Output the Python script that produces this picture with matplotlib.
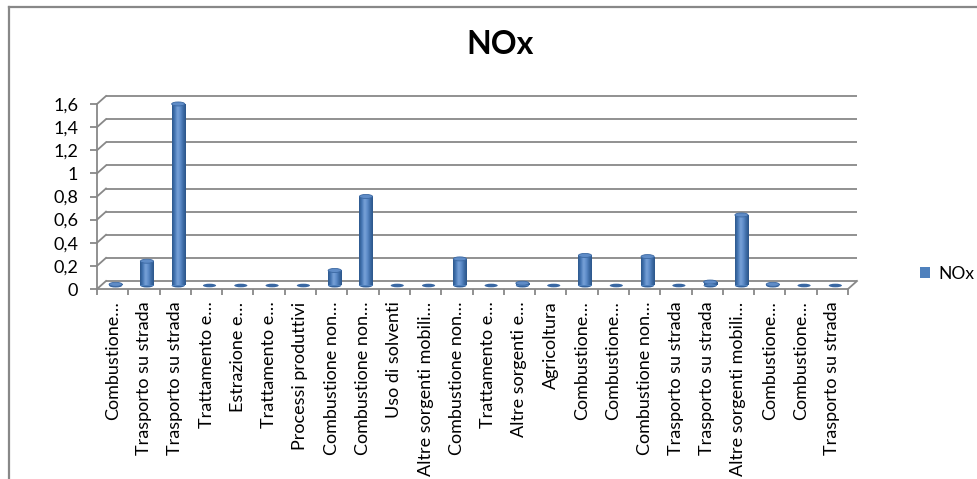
import numpy as np
import matplotlib
matplotlib.use("Agg")
import matplotlib.pyplot as plt
from matplotlib.colors import LinearSegmentedColormap
from matplotlib.patches import Ellipse, Patch
from matplotlib.lines import Line2D

plt.rcParams['font.family'] = ['Lato', 'DejaVu Sans']

# --- data -------------------------------------------------------------
categories = [
    "Combustione…", "Trasporto su strada", "Trasporto su strada",
    "Trattamento e…", "Estrazione e…", "Trattamento e…",
    "Processi produttivi", "Combustione non…", "Combustione non…",
    "Uso di solventi", "Altre sorgenti mobili…", "Combustione non…",
    "Trattamento e…", "Altre sorgenti e…", "Agricoltura",
    "Combustione…", "Combustione…", "Combustione non…",
    "Trasporto su strada", "Trasporto su strada", "Altre sorgenti mobili…",
    "Combustione…", "Combustione…", "Trasporto su strada",
]
nox = [0.01, 0.21, 1.57, 0.0, 0.0, 0.0, 0.0, 0.13, 0.77, 0.0, 0.0, 0.23,
       0.0, 0.02, 0.0, 0.26, 0.0, 0.25, 0.0, 0.03, 0.61, 0.01, 0.0, 0.0]
y_ticks = [0, 0.2, 0.4, 0.6, 0.8, 1.0, 1.2, 1.4, 1.6]
y_tick_labels = ["0", "0,2", "0,4", "0,6", "0,8", "1", "1,2", "1,4", "1,6"]
series_name = "NOx"

# --- figure and front plane of the 3-D box ------------------------------
W, H = 978, 479
fig = plt.figure(figsize=(W / 100, H / 100), dpi=100)
x0_px, x1_px, y0_px, y1_px = 97, 848, 289, 104
ax = fig.add_axes([x0_px / W, 1 - y0_px / H, (x1_px - x0_px) / W, (y0_px - y1_px) / H])
n = len(categories)
ax.set_xlim(0, n)
ax.set_ylim(0, 1.6)
ax.patch.set_alpha(0)

px_x = (x1_px - x0_px) / n          # pixels per category
px_y = (y0_px - y1_px) / 1.6         # pixels per unit
back_dx, back_dy = 9 / px_x, 8 / px_y    # depth offset of the back wall
mid_dx, mid_dy = 3 / px_x, 3.5 / px_y    # depth offset of the bar row

grid_c = "#888888"
lw_grid = 1.3

# back-wall gridlines and the side-wall diagonals
for v in y_ticks:
    ax.plot([back_dx, n + back_dx], [v + back_dy] * 2, color=grid_c, lw=lw_grid,
            clip_on=False, zorder=1, solid_capstyle="butt")
    ax.plot([0, back_dx], [v, v + back_dy], color=grid_c, lw=lw_grid,
            clip_on=False, zorder=1)
# right edge of the floor
ax.plot([n, n + back_dx], [0, back_dy], color=grid_c, lw=lw_grid, clip_on=False, zorder=1)

for side in ("top", "right"):
    ax.spines[side].set_visible(False)
for side in ("left", "bottom"):
    ax.spines[side].set_color(grid_c)
    ax.spines[side].set_linewidth(lw_grid)

ax.set_yticks(y_ticks)
ax.set_yticklabels(y_tick_labels)
ax.tick_params(axis="y", length=5, width=lw_grid, color=grid_c, pad=8.5,
               labelsize=13, labelcolor="black")

centers = np.arange(n) + 0.5
ax.set_xticks(centers)
ax.set_xticklabels(categories, rotation=90, va="top", ha="center")
ax.tick_params(axis="x", which="major", length=0, pad=9, labelsize=13)
ax.set_xticks(np.arange(n + 1), minor=True)
ax.tick_params(axis="x", which="minor", length=4.5, width=lw_grid, color=grid_c)

# --- cylinders ------------------------------------------------------------
bar_w = 0.42
cyl = LinearSegmentedColormap.from_list(
    "cyl", ["#2b568a", "#4677b5", "#79a2d8", "#5e8dca", "#3e6ca6", "#2b5589"])
grad = np.linspace(0, 1, 64)[None, :]
ell_h = 4 / px_y

bars = ax.bar(centers + mid_dx, nox, width=bar_w, bottom=mid_dy,
              color="#4f81bd", zorder=3, linewidth=0)
for bar, v in zip(bars, nox):
    xc = bar.get_x() + bar.get_width() / 2
    if v > 0:
        ax.add_patch(Ellipse((xc, mid_dy), bar_w, ell_h, facecolor="#34629c",
                             edgecolor="none", zorder=2.9, clip_on=False))
        im = ax.imshow(grad, cmap=cyl, aspect="auto", interpolation="bicubic",
                       extent=(bar.get_x(), bar.get_x() + bar.get_width(),
                               mid_dy, mid_dy + v), zorder=3.1)
        im.set_clip_path(bar)
        ax.add_patch(Ellipse((xc, mid_dy + v), bar_w, ell_h, facecolor="#5f8cc7",
                             edgecolor="#3b68a2", lw=0.6, zorder=3.2, clip_on=False))
    else:
        ax.add_patch(Ellipse((xc, mid_dy), bar_w, ell_h * 0.9, facecolor="#3a68a3",
                             edgecolor="none", zorder=3.2, clip_on=False))

ax.set_xlim(0, n)
ax.set_ylim(0, 1.6)

# --- title, legend, chart border ------------------------------------------
fig.text(500 / W, 1 - 44 / H, "NOx", ha="center", va="center",
         fontsize=23, fontweight="bold")

fig.legend(handles=[Patch(facecolor="#4f81bd", edgecolor="none", label=series_name)],
           loc="center left", bbox_to_anchor=(920 / W, 1 - 274 / H), frameon=False,
           handlelength=0.6, handleheight=0.6, handletextpad=0.45,
           borderaxespad=0, borderpad=0, fontsize=12.5)

fig.add_artist(Line2D([8.5 / W, 8.5 / W], [0, 1 - 7 / H], color="#888888", lw=1.6,
                      transform=fig.transFigure))
fig.add_artist(Line2D([8.5 / W, 1], [1 - 7 / H, 1 - 7 / H], color="#888888", lw=1.6,
                      transform=fig.transFigure))

fig.savefig("out.png", dpi=100)
